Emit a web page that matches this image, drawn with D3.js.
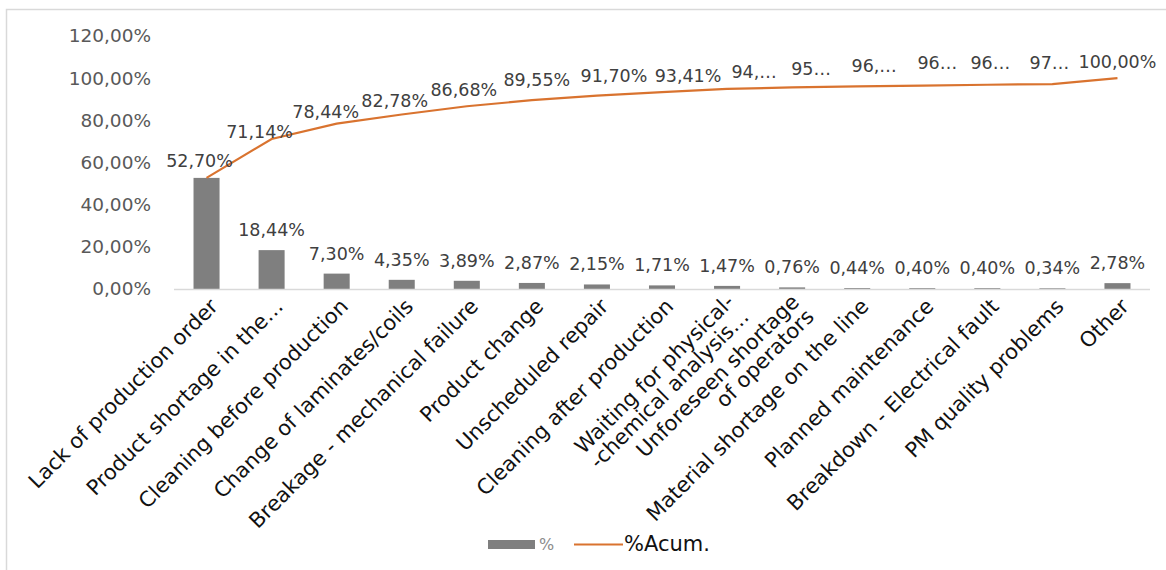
<!DOCTYPE html>
<html>
<head>
<meta charset="utf-8">
<script src="https://cdn.jsdelivr.net/npm/d3@7"></script>
<style>
  body { margin: 0; background: #fff; }
  svg { display: block; font-family: "DejaVu Sans", Verdana, sans-serif; }
</style>
</head>
<body>
<svg id="chart" width="1166" height="570"></svg>
<script>
// Downtime causes (Pareto): individual share and running total, in %
const categories = [
  ["Lack of production order"],
  ["Product shortage in the…"],
  ["Cleaning before production"],
  ["Change of laminates/coils"],
  ["Breakage - mechanical failure"],
  ["Product change"],
  ["Unscheduled repair"],
  ["Cleaning after production"],
  ["Waiting for physical-", "-chemical analysis…"],
  ["Unforeseen shortage", "of operators"],
  ["Material shortage on the line"],
  ["Planned maintenance"],
  ["Breakdown - Electrical fault"],
  ["PM quality problems"],
  ["Other"]
];
const share = [52.70, 18.44, 7.30, 4.35, 3.89, 2.87, 2.15, 1.71, 1.47, 0.76, 0.44, 0.40, 0.40, 0.34, 2.78];
const cumulative = [52.70, 71.14, 78.44, 82.78, 86.68, 89.55, 91.70, 93.41, 94.88, 95.64, 96.08, 96.48, 96.88, 97.22, 100.00];
// running-total labels as they fit in the available space
const cumulativeLabels = ["52,70%", "71,14%", "78,44%", "82,78%", "86,68%", "89,55%", "91,70%", "93,41%",
  "94,…", "95…", "96,…", "96…", "96…", "97…", "100,00%"];
const yTicks = [0, 20, 40, 60, 80, 100, 120];
const legendLabels = ["%", "%Acum."];

// label nudges for the running-total labels (dx, dy from the point to the text centre)
const cumLabelNudge = [[-7,-17],[-12,-7],[-11,-12],[-7,-13],[-3,-16],[5,-20],[17,-20],[26,-16],
  [27,-17],[19,-18],[17,-20],[15,-23],[3,-22],[-3,-21],[0,-16]];

const colors = { bar: "#7f7f7f", line: "#d9732f", axis: "#d9d9d9", label: "#404040", tick: "#595959" };

const locale = d3.formatLocale({ decimal: ",", thousands: ".", grouping: [3], currency: ["", "€"] });
const pct = v => locale.format(".2f")(v) + "%";

const svg = d3.select("#chart");
const plot = { left: 174, right: 1150, top: 36, bottom: 289 };

// chart frame
svg.append("path")
  .attr("d", `M6.5,570 V9.5 H1166`)
  .attr("fill", "none").attr("stroke", colors.axis).attr("stroke-width", 1.5);

const x = d3.scaleBand().domain(d3.range(categories.length))
  .range([plot.left, plot.right]).paddingInner(0.6).paddingOuter(0.3);
const y = d3.scaleLinear().domain([0, 120]).range([plot.bottom, plot.top]);
const cx = i => x(i) + x.bandwidth() / 2;

// y axis labels (no axis line)
const yAxis = svg.append("g").attr("transform", `translate(${plot.left},0)`)
  .call(d3.axisLeft(y).tickValues(yTicks).tickFormat(pct).tickSize(0).tickPadding(23));
yAxis.select(".domain").remove();
yAxis.selectAll("text").attr("font-size", 18.5).attr("fill", colors.tick)
  .attr("font-family", '"DejaVu Sans", Verdana, sans-serif');

// bars
svg.append("g").selectAll("rect").data(share).join("rect")
  .attr("x", (d, i) => x(i)).attr("width", x.bandwidth())
  .attr("y", d => y(d)).attr("height", d => y(0) - y(d))
  .attr("fill", colors.bar);

// category baseline
svg.append("line").attr("x1", plot.left).attr("x2", plot.right)
  .attr("y1", y(0) + 0.5).attr("y2", y(0) + 0.5)
  .attr("stroke", colors.axis).attr("stroke-width", 1.5);

// cumulative line
svg.append("path").datum(cumulative)
  .attr("d", d3.line().x((d, i) => cx(i)).y(d => y(d)))
  .attr("fill", "none").attr("stroke", colors.line).attr("stroke-width", 2.2);

// bar value labels (skipped where the running-total label says the same thing)
svg.append("g").selectAll("text")
  .data(share.map((v, i) => ({ v, i })).filter(d => d.v !== cumulative[d.i]))
  .join("text")
  .attr("x", d => cx(d.i)).attr("y", d => y(d.v) - 14)
  .attr("text-anchor", "middle").attr("font-size", 17.5).attr("fill", colors.label)
  .text(d => pct(d.v));

// running-total labels
svg.append("g").selectAll("text").data(cumulative).join("text")
  .attr("x", (d, i) => cx(i) + cumLabelNudge[i][0])
  .attr("y", (d, i) => y(d) + cumLabelNudge[i][1] + 6)
  .attr("text-anchor", "middle").attr("font-size", 17.5).attr("fill", colors.label)
  .text((d, i) => cumulativeLabels[i]);

// rotated category labels
const xl = svg.append("g").selectAll("text").data(categories).join("text")
  .attr("transform", (d, i) => `translate(${cx(i) + 2},${plot.bottom + 8}) rotate(-45)`)
  .attr("text-anchor", "end").attr("font-size", 21).attr("fill", "#111");
xl.each(function (lines) {
  const t = d3.select(this);
  const shift = lines.length > 1 ? -0.3 : 0;
  lines.forEach((ln, k) => {
    t.append("tspan").attr("x", 0).attr("dy", k === 0 ? `${0.72 + shift}em` : "1.0em").text(ln);
  });
});

// legend
const lg = svg.append("g");
lg.append("rect").attr("x", 488).attr("y", 540).attr("width", 47).attr("height", 9).attr("fill", colors.bar);
lg.append("text").attr("x", 539).attr("y", 550).attr("font-size", 16).attr("fill", "#8c8c8c").text(legendLabels[0]);
lg.append("line").attr("x1", 574).attr("x2", 623).attr("y1", 544.5).attr("y2", 544.5)
  .attr("stroke", colors.line).attr("stroke-width", 2);
lg.append("text").attr("x", 624).attr("y", 551).attr("font-size", 21).attr("fill", "#111").text(legendLabels[1]);
</script>
</body>
</html>
